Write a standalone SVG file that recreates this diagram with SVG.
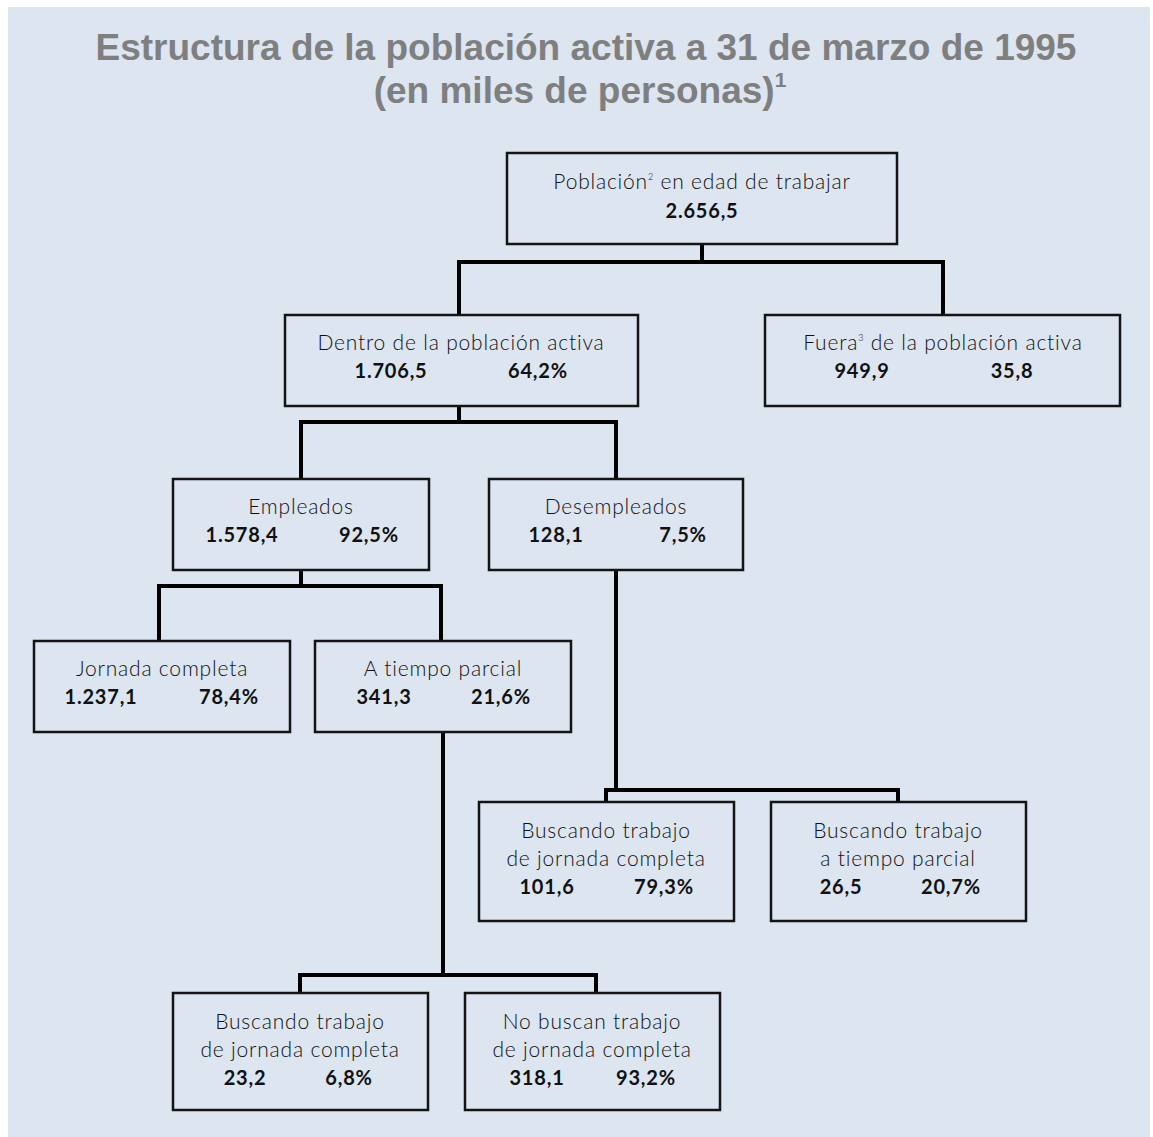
<svg xmlns="http://www.w3.org/2000/svg" width="1153" height="1137" viewBox="0 0 1153 1137">
<style>
.bg{fill:#dce5f0}
.title{font-family:"Liberation Sans",Arial,sans-serif;font-weight:bold;font-size:37px;fill:#7f7f7f;text-anchor:middle}
.box{fill:#dce5f0;stroke:#141414;stroke-width:2.5}
.lbl{font-family:Lato,"Open Sans",sans-serif;font-size:21px;font-weight:300;letter-spacing:0.8px;fill:#111;text-anchor:middle}
.num{font-family:Lato,"Open Sans",sans-serif;font-size:20px;font-weight:bold;fill:#111;text-anchor:middle;letter-spacing:0.8px}
.sup{font-size:9px}
.conn{fill:none;stroke:#000;stroke-width:4;stroke-linejoin:miter}
</style>
<rect class="bg" x="8" y="7" width="1142" height="1130"/>
<text class="title" x="586" y="60">Estructura de la población activa a 31 de marzo de 1995</text>
<text class="title" x="580" y="103">(en miles de personas)<tspan font-size="21" dy="-16">1</tspan></text>

<g id="connectors">
<path class="conn" d="M702,244 V262 M459,315 V262 H943 V315"/>
<path class="conn" d="M459,406 V422 M301,479 V422 H616 V479"/>
<path class="conn" d="M301,570 V586 M159,641 V586 H441 V641"/>
<path class="conn" d="M616,570 V790 M606,802 V790 H898 V802"/>
<path class="conn" d="M443,732 V975 M300,993 V975 H596 V993"/>
</g>

<g id="n-poblacion">
<rect class="box" x="507" y="153" width="390" height="91"/>
<text class="lbl" x="702" y="189">Población<tspan class="sup" dy="-9">2</tspan><tspan dy="9"> en edad de trabajar</tspan></text>
<text class="num" x="702" y="218">2.656,5</text>
</g>

<g id="n-dentro">
<rect class="box" x="285" y="315" width="353" height="91"/>
<text class="lbl" x="461" y="350">Dentro de la población activa</text>
<text class="num" x="391" y="378">1.706,5</text>
<text class="num" x="538" y="378">64,2%</text>
</g>

<g id="n-fuera">
<rect class="box" x="765" y="315" width="355" height="91"/>
<text class="lbl" x="943" y="350">Fuera<tspan class="sup" dy="-9">3</tspan><tspan dy="9"> de la población activa</tspan></text>
<text class="num" x="862" y="378">949,9</text>
<text class="num" x="1012" y="378">35,8</text>
</g>

<g id="n-empleados">
<rect class="box" x="173" y="479" width="256" height="91"/>
<text class="lbl" x="301" y="514">Empleados</text>
<text class="num" x="242" y="542">1.578,4</text>
<text class="num" x="369" y="542">92,5%</text>
</g>

<g id="n-desempleados">
<rect class="box" x="489" y="479" width="254" height="91"/>
<text class="lbl" x="616" y="514">Desempleados</text>
<text class="num" x="556" y="542">128,1</text>
<text class="num" x="683" y="542">7,5%</text>
</g>

<g id="n-jornada">
<rect class="box" x="34" y="641" width="256" height="91"/>
<text class="lbl" x="162" y="676">Jornada completa</text>
<text class="num" x="101" y="704">1.237,1</text>
<text class="num" x="229" y="704">78,4%</text>
</g>

<g id="n-parcial">
<rect class="box" x="315" y="641" width="256" height="91"/>
<text class="lbl" x="443" y="676">A tiempo parcial</text>
<text class="num" x="384" y="704">341,3</text>
<text class="num" x="501" y="704">21,6%</text>
</g>

<g id="n-busc-completa-desemp">
<rect class="box" x="479" y="802" width="255" height="119"/>
<text class="lbl" x="606" y="838">Buscando trabajo</text>
<text class="lbl" x="606" y="866">de jornada completa</text>
<text class="num" x="547" y="894">101,6</text>
<text class="num" x="664" y="894">79,3%</text>
</g>

<g id="n-busc-parcial-desemp">
<rect class="box" x="771" y="802" width="255" height="119"/>
<text class="lbl" x="898" y="838">Buscando trabajo</text>
<text class="lbl" x="898" y="866">a tiempo parcial</text>
<text class="num" x="841" y="894">26,5</text>
<text class="num" x="951" y="894">20,7%</text>
</g>

<g id="n-busc-completa-parcial">
<rect class="box" x="173" y="993" width="255" height="117"/>
<text class="lbl" x="300" y="1029">Buscando trabajo</text>
<text class="lbl" x="300" y="1057">de jornada completa</text>
<text class="num" x="245" y="1085">23,2</text>
<text class="num" x="349" y="1085">6,8%</text>
</g>

<g id="n-no-buscan">
<rect class="box" x="465" y="993" width="255" height="117"/>
<text class="lbl" x="592" y="1029">No buscan trabajo</text>
<text class="lbl" x="592" y="1057">de jornada completa</text>
<text class="num" x="537" y="1085">318,1</text>
<text class="num" x="646" y="1085">93,2%</text>
</g>
</svg>
